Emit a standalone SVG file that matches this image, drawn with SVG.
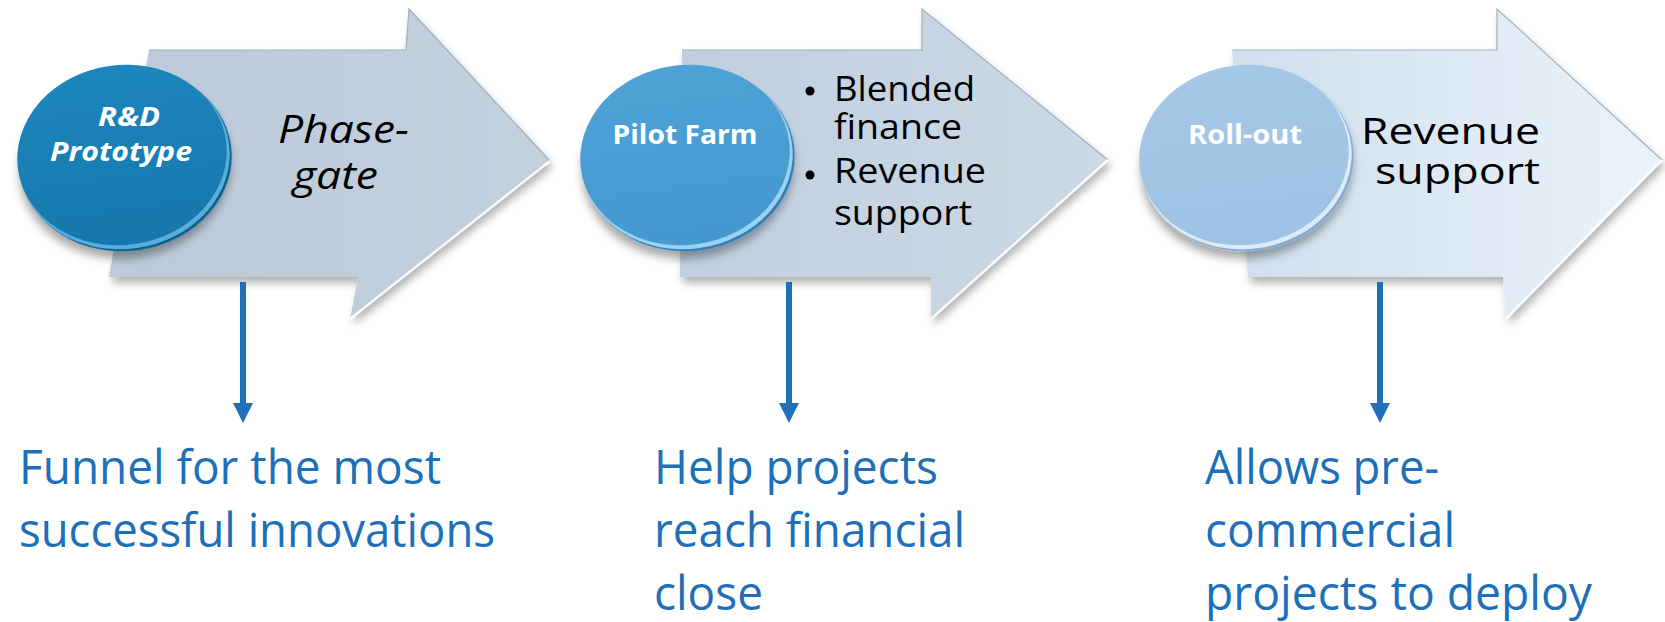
<svg xmlns="http://www.w3.org/2000/svg" width="1665" height="622" viewBox="0 0 1665 622">
<defs>
<style>
.blue{font-family:"Open Sans","Liberation Sans",sans-serif;font-size:48px;fill:#1C6FB8}
.at{font-family:"Open Sans","Liberation Sans",sans-serif;font-size:35px;fill:#000}
.ct{font-family:"Open Sans","Liberation Sans",sans-serif;font-weight:bold;font-size:26px;fill:#fff}
.conn{stroke:#1F6FB9;stroke-width:6;fill:none}
.hl{fill:none;stroke:#fff;stroke-width:2.5;stroke-opacity:0.9}
.edge{fill:none;stroke:#9fb0c2;stroke-width:1.2}
</style>
<filter id="sh" x="-10%" y="-10%" width="125%" height="135%">
<feDropShadow dx="3" dy="6" stdDeviation="4" flood-color="#000" flood-opacity="0.3"/>
</filter>
<filter id="csh" x="-20%" y="-20%" width="150%" height="150%">
<feDropShadow dx="-2" dy="7" stdDeviation="5" flood-color="#000" flood-opacity="0.35"/>
</filter>
<linearGradient id="ga1" x1="0" y1="0" x2="1" y2="0"><stop offset="0" stop-color="#BCCAD9"/><stop offset="1" stop-color="#C3D0DE"/></linearGradient>
<linearGradient id="ga2" x1="0" y1="0" x2="1" y2="0"><stop offset="0" stop-color="#C0CFDF"/><stop offset="1" stop-color="#CCD9E6"/></linearGradient>
<linearGradient id="ga3" x1="0" y1="0" x2="1" y2="0"><stop offset="0" stop-color="#CFDFEE"/><stop offset="1" stop-color="#EBF3FA"/></linearGradient>
<linearGradient id="gc1" x1="0" y1="0" x2="0" y2="1"><stop offset="0" stop-color="#1C86BD"/><stop offset="1" stop-color="#1677AC"/></linearGradient>
<linearGradient id="gc2" x1="0" y1="0" x2="0" y2="1"><stop offset="0" stop-color="#4DA2D6"/><stop offset="1" stop-color="#4598CF"/></linearGradient>
<linearGradient id="gc3" x1="0" y1="0" x2="0" y2="1"><stop offset="0" stop-color="#A6C8E7"/><stop offset="1" stop-color="#9EC2E4"/></linearGradient>
<marker id="ah" markerUnits="userSpaceOnUse" markerWidth="20" markerHeight="20" viewBox="0 0 20 20" refX="0" refY="10" orient="auto">
<path d="M0,0 L20,10 L0,20 Z" fill="#1F6FB9"/>
</marker>
</defs>

<g id="arrow1">
<polygon points="149,50 406,50 409,9 550,161 350,319 358,277 109,277" fill="url(#ga1)" filter="url(#sh)"/>
<polyline class="edge" points="149,50 406,50 409,9 550,161"/>
<polyline class="hl" points="550,161 350,319"/>
<text class="at" style="font-size:38px" font-style="italic" x="278" y="143" textLength="131" lengthAdjust="spacingAndGlyphs">Phase-</text>
<text class="at" style="font-size:38px" font-style="italic" x="293" y="189" textLength="85" lengthAdjust="spacingAndGlyphs">gate</text>
</g>

<g id="arrow2">
<polygon points="682,50 922,50 922,9 1108,160 931,319 931,277 680,277" fill="url(#ga2)" filter="url(#sh)"/>
<polyline class="edge" points="682,50 922,50 922,9 1108,160"/>
<polyline class="hl" points="1108,160 931,319"/>
<circle cx="810" cy="91" r="4.5" fill="#000"/>
<circle cx="810" cy="175" r="4.5" fill="#000"/>
<text class="at" x="834" y="101" textLength="141" lengthAdjust="spacingAndGlyphs">Blended</text>
<text class="at" x="834" y="139" textLength="128" lengthAdjust="spacingAndGlyphs">finance</text>
<text class="at" x="834" y="183" textLength="152" lengthAdjust="spacingAndGlyphs">Revenue</text>
<text class="at" x="834" y="225" textLength="138" lengthAdjust="spacingAndGlyphs">support</text>
</g>

<g id="arrow3">
<polygon points="1232,50 1497,50 1497,9 1662,160 1506,319 1503,277 1248,277" fill="url(#ga3)" filter="url(#sh)"/>
<polyline class="edge" points="1232,50 1497,50 1497,9 1662,160"/>
<polyline class="hl" points="1662,160 1506,319"/>
<text class="at" style="font-size:37px" x="1361" y="144" textLength="179" lengthAdjust="spacingAndGlyphs">Revenue</text>
<text class="at" style="font-size:37px" x="1375" y="184" textLength="165" lengthAdjust="spacingAndGlyphs">support</text>
</g>

<g id="node-rd">
<ellipse cx="126" cy="160" rx="106" ry="91" transform="rotate(-8 126 160)" fill="#0F5E8A" filter="url(#csh)"/>
<ellipse cx="124" cy="158" rx="106" ry="91" transform="rotate(-8 124 158)" fill="#56AEDD"/>
<ellipse cx="122" cy="155" rx="105" ry="90" transform="rotate(-8 122 155)" fill="url(#gc1)"/>
<text class="ct" font-style="italic" x="129" y="126" text-anchor="middle" textLength="62" lengthAdjust="spacingAndGlyphs">R&amp;D</text>
<text class="ct" font-style="italic" x="121" y="161" text-anchor="middle" textLength="142" lengthAdjust="spacingAndGlyphs">Prototype</text>
</g>

<g id="node-pilot">
<ellipse cx="689" cy="160" rx="106" ry="91" transform="rotate(-8 689 160)" fill="#2F7DB5" filter="url(#csh)"/>
<ellipse cx="687" cy="158" rx="106" ry="91" transform="rotate(-8 687 158)" fill="#9AD0F2"/>
<ellipse cx="685" cy="155" rx="105" ry="90" transform="rotate(-8 685 155)" fill="url(#gc2)"/>
<text class="ct" x="685" y="144" text-anchor="middle" textLength="145" lengthAdjust="spacingAndGlyphs">Pilot Farm</text>
</g>

<g id="node-rollout">
<ellipse cx="1248" cy="160" rx="106" ry="91" transform="rotate(-8 1248 160)" fill="#86AACF" filter="url(#csh)"/>
<ellipse cx="1246" cy="158" rx="106" ry="91" transform="rotate(-8 1246 158)" fill="#DCEBF8"/>
<ellipse cx="1244" cy="155" rx="105" ry="90" transform="rotate(-8 1244 155)" fill="url(#gc3)"/>
<text class="ct" x="1245" y="144" text-anchor="middle" textLength="114" lengthAdjust="spacingAndGlyphs">Roll-out</text>
</g>

<g id="connectors">
<line class="conn" x1="243" y1="282" x2="243" y2="403" marker-end="url(#ah)"/>
<line class="conn" x1="789" y1="282" x2="789" y2="403" marker-end="url(#ah)"/>
<line class="conn" x1="1380" y1="282" x2="1380" y2="403" marker-end="url(#ah)"/>
</g>

<g id="note1">
<text class="blue" x="19" y="484" textLength="422" lengthAdjust="spacingAndGlyphs">Funnel for the most</text>
<text class="blue" x="19" y="547" textLength="476" lengthAdjust="spacingAndGlyphs">successful innovations</text>
</g>
<g id="note2">
<text class="blue" x="654" y="484" textLength="284" lengthAdjust="spacingAndGlyphs">Help projects</text>
<text class="blue" x="654" y="547" textLength="311" lengthAdjust="spacingAndGlyphs">reach financial</text>
<text class="blue" x="654" y="610" textLength="109" lengthAdjust="spacingAndGlyphs">close</text>
</g>
<g id="note3">
<text class="blue" x="1205" y="484" textLength="234" lengthAdjust="spacingAndGlyphs">Allows pre-</text>
<text class="blue" x="1205" y="547" textLength="250" lengthAdjust="spacingAndGlyphs">commercial</text>
<text class="blue" x="1205" y="610" textLength="387" lengthAdjust="spacingAndGlyphs">projects to deploy</text>
</g>
</svg>
